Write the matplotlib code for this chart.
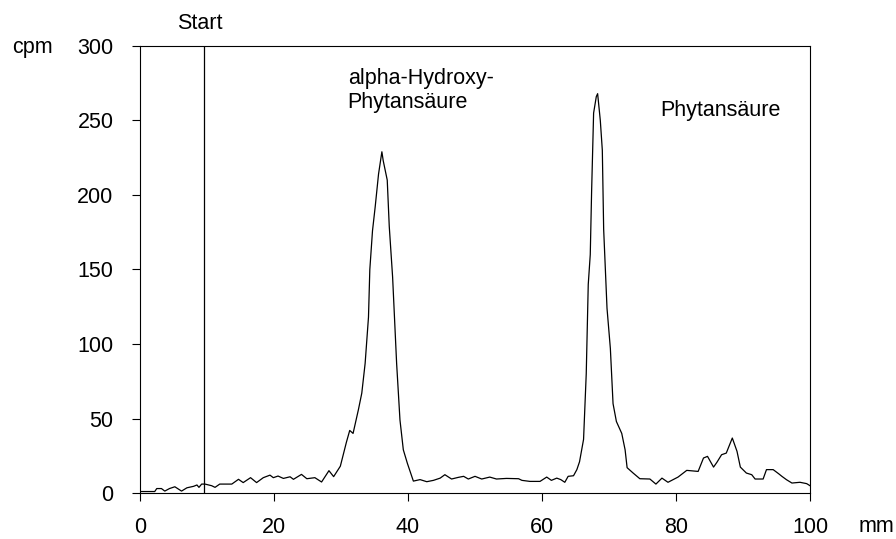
import matplotlib
matplotlib.use("Agg")
import matplotlib.pyplot as plt
from matplotlib.transforms import blended_transform_factory

# Radio-TLC scan: position on the plate (mm) vs. counts per minute
position_mm = [
    0.0, 1.0, 2.2, 2.5, 3.2, 3.7, 4.4, 5.2, 6.2, 7.0, 8.0, 8.5, 8.8, 9.2, 9.7,
    10.7, 11.2, 11.9, 13.7, 14.7, 15.4, 16.5, 17.4, 18.4, 19.4, 19.9, 20.6,
    21.4, 22.4, 22.9, 24.1, 24.9, 26.1, 27.1, 28.2, 28.9, 29.9, 30.8, 31.3,
    31.8, 32.6, 33.1, 33.6, 34.1, 34.3, 34.7, 35.1, 35.6, 36.1, 36.3, 36.9,
    37.2, 37.7, 38.3, 38.8, 39.3, 39.9, 40.8, 41.8, 42.8, 43.8, 44.8, 45.5,
    46.5, 47.5, 48.3, 49.0, 50.0, 51.0, 52.2, 53.2, 54.7, 56.5, 57.0, 58.2,
    59.7, 60.7, 61.4, 62.2, 62.8, 63.4, 63.9, 64.7, 65.2, 65.6, 66.2, 66.6,
    66.9, 67.2, 67.4, 67.7, 68.1, 68.3, 68.7, 69.0, 69.2, 69.7, 70.2, 70.6,
    71.1, 71.9, 72.4, 72.7, 73.6, 74.6, 76.1, 77.0, 77.9, 78.8, 80.3, 81.6,
    83.3, 84.1, 84.7, 85.6, 86.1, 86.8, 87.5, 87.8, 88.4, 89.1, 89.6, 90.5,
    91.3, 91.8, 93.0, 93.5, 94.5, 95.3, 95.8, 96.5, 97.3, 98.5, 99.5, 100.0,
]
counts_cpm = [
    1, 1, 1, 3, 3, 1.3, 3, 4.2, 1.3, 3.5, 4.5, 5.4, 3.8, 6, 6,
    4.9, 3.8, 6, 6, 9.2, 7, 10.3, 7, 10.3, 12, 10.3, 11.4,
    9.8, 10.9, 9.2, 12.5, 9.6, 10.3, 7.4, 15, 11, 18, 34, 42,
    40, 56, 67, 87, 118, 150, 176, 192, 214, 229, 223, 210,
    179, 145, 87, 49, 29, 20, 8, 9, 7.6, 8.5, 10, 12.3,
    9.4, 10.5, 11.2, 9.4, 11.2, 9.4, 10.7, 9.4, 9.8, 9.6, 8.5, 7.8,
    7.8, 10.7, 8.5, 10, 9, 7.2, 11.2, 11.6, 15.7, 21, 36, 80,
    140, 160, 202, 255, 266, 268, 250, 230, 177, 124, 97, 60,
    48, 40, 29, 17, 13.4, 9.6, 9.4, 6, 10, 7.2, 10.7, 15.2,
    14.5, 23.5, 24.6, 17.4, 20.6, 25.7, 26.8, 30.2, 36.9, 28, 17.4, 13.4,
    12.3, 9.4, 9.4, 15.7, 15.7, 13, 11.2, 8.9, 6.7, 7.2, 6.3, 4.9,
]

start_mm = 9.6
x_ticks = [0, 20, 40, 60, 80, 100]
y_ticks = [0, 50, 100, 150, 200, 250, 300]

plt.rcParams["font.family"] = ["Liberation Sans", "DejaVu Sans"]
plt.rcParams["font.size"] = 15.5

fig = plt.figure(figsize=(8.96, 5.39), dpi=100)
ax = fig.add_axes([0.15625, 0.0853, 0.7478, 0.8294])

ax.plot(position_mm, counts_cpm, color="black", linewidth=0.9)
ax.axvline(start_mm, color="black", linewidth=0.9)

ax.set_xlim(0, 100)
ax.set_ylim(0, 300)
ax.set_xticks(x_ticks)
ax.set_yticks(y_ticks)
ax.tick_params(direction="out", length=6, width=0.8, color="black")
ax.tick_params(axis="x", pad=11)
ax.tick_params(axis="y", pad=13)
for side in ax.spines.values():
    side.set_linewidth(0.8)
    side.set_color("black")

# peak labels and axis units
ax.text(31.0, 270, "alpha-Hydroxy-\nPhytansäure", ha="left", va="center",
        linespacing=1.2)
ax.text(77.7, 257, "Phytansäure", ha="left", va="center")
top_blend = blended_transform_factory(ax.transData, ax.transAxes)
ax.text(start_mm - 0.6, 1.05, "Start", transform=top_blend,
        ha="center", va="center")
fig.text(32 / 896, 1 - 47 / 539, "cpm", ha="center", va="center")
fig.text(876 / 896, 1 - 526 / 539, "mm", ha="center", va="center")

fig.savefig("out.png", dpi=100)
